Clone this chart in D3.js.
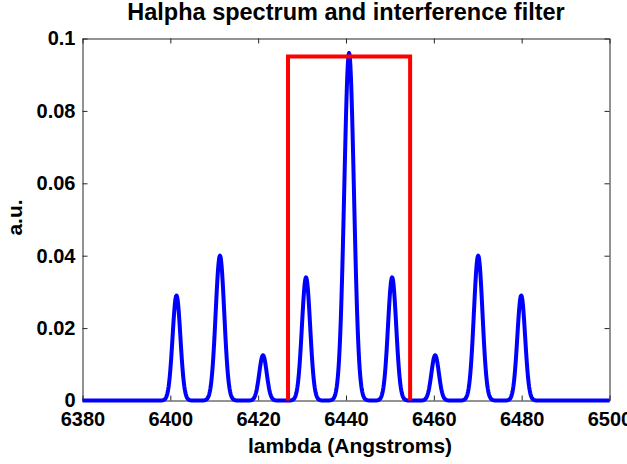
<!DOCTYPE html>
<html>
<head>
<meta charset="utf-8">
<script src="https://cdn.jsdelivr.net/npm/d3@7"></script>
<style>
  body { margin: 0; background: #fff; }
  svg { display: block; font-family: "Liberation Sans", Arial, sans-serif; }
  .tick text { font-size: 20px; font-weight: bold; fill: #000; }
  .domain, .tick line { stroke: #262626; }
</style>
</head>
<body>
<div id="chart"></div>
<script>
// emission lines (Angstrom, a.u., FWHM in Angstrom)
const lineCenters = [6401.4, 6411.3, 6421.1, 6430.9, 6440.7, 6450.5, 6460.3, 6470.1, 6479.9];
const lineHeights = [0.029, 0.040, 0.0125, 0.034, 0.096, 0.034, 0.0125, 0.040, 0.029];
const lineWidths  = [2.1, 2.3, 2.0, 2.2, 2.6, 2.2, 2.0, 2.3, 2.1];

// interference filter passband
const filterLambda = [6426.8, 6426.8, 6454.6, 6454.6];
const filterValue  = [0, 0.095, 0.095, 0];

const xTicks = [6380, 6400, 6420, 6440, 6460, 6480, 6500];
const yTicks = [0, 0.02, 0.04, 0.06, 0.08, 0.1];

const width = 627, height = 464;
const margin = { top: 38.5, right: 17.5, bottom: 63.5, left: 82.5 };

const svg = d3.select("#chart").append("svg")
  .attr("width", width)
  .attr("height", height);

const x = d3.scaleLinear()
  .domain([6380, 6500])
  .range([margin.left, width - margin.right]);

const y = d3.scaleLinear()
  .domain([0, 0.1])
  .range([height - margin.bottom, margin.top]);

// spectrum sampled along lambda from the line list (gaussian profiles)
const step = 0.1;
const spectrum = d3.range(6380, 6500 + step / 2, step).map((l) => {
  let v = 0;
  lineCenters.forEach((c, i) => {
    const s = lineWidths[i] / 2.3548;
    v += lineHeights[i] * Math.exp(-0.5 * ((l - c) / s) ** 2);
  });
  return [l, v];
});

const filter = filterLambda.map((l, i) => [l, filterValue[i]]);

const line = d3.line()
  .x((d) => x(d[0]))
  .y((d) => y(d[1]));

// axes: ticks point inward, box on
const fmtY = (d) => (d === 0 ? "0" : d === 0.1 ? "0.1" : d3.format(".2f")(d));

svg.append("g")
  .attr("transform", `translate(0,${y(0)})`)
  .call(d3.axisBottom(x).tickValues(xTicks).tickSizeInner(-5).tickSizeOuter(0).tickPadding(11).tickFormat(d3.format("d")));

svg.append("g")
  .attr("transform", `translate(0,${y(0.1)})`)
  .call(d3.axisTop(x).tickValues(xTicks).tickSizeInner(-5).tickSizeOuter(0).tickFormat(""));

svg.append("g")
  .attr("transform", `translate(${x(6380)},0)`)
  .call(d3.axisLeft(y).tickValues(yTicks).tickSizeInner(-5).tickSizeOuter(0).tickPadding(7).tickFormat(fmtY));

svg.append("g")
  .attr("transform", `translate(${x(6500)},0)`)
  .call(d3.axisRight(y).tickValues(yTicks).tickSizeInner(-5).tickSizeOuter(0).tickFormat(""));

svg.append("path")
  .datum(spectrum)
  .attr("fill", "none")
  .attr("stroke", "#0000ff")
  .attr("stroke-width", 4)
  .attr("stroke-linejoin", "round")
  .attr("d", line);

svg.append("path")
  .datum(filter)
  .attr("fill", "none")
  .attr("stroke", "#ff0000")
  .attr("stroke-width", 4)
  .attr("d", line);

svg.append("text")
  .attr("x", 346)
  .attr("y", 20)
  .attr("text-anchor", "middle")
  .attr("font-size", 23.5)
  .attr("font-weight", "bold")
  .text("Halpha spectrum and interference filter");

svg.append("text")
  .attr("x", 350)
  .attr("y", 453)
  .attr("text-anchor", "middle")
  .attr("font-size", 21)
  .attr("font-weight", "bold")
  .text("lambda (Angstroms)");

svg.append("text")
  .attr("transform", `translate(22,${(y(0) + y(0.1)) / 2 - 2}) rotate(-90)`)
  .attr("text-anchor", "middle")
  .attr("font-size", 21)
  .attr("font-weight", "bold")
  .text("a.u.");
</script>
</body>
</html>
